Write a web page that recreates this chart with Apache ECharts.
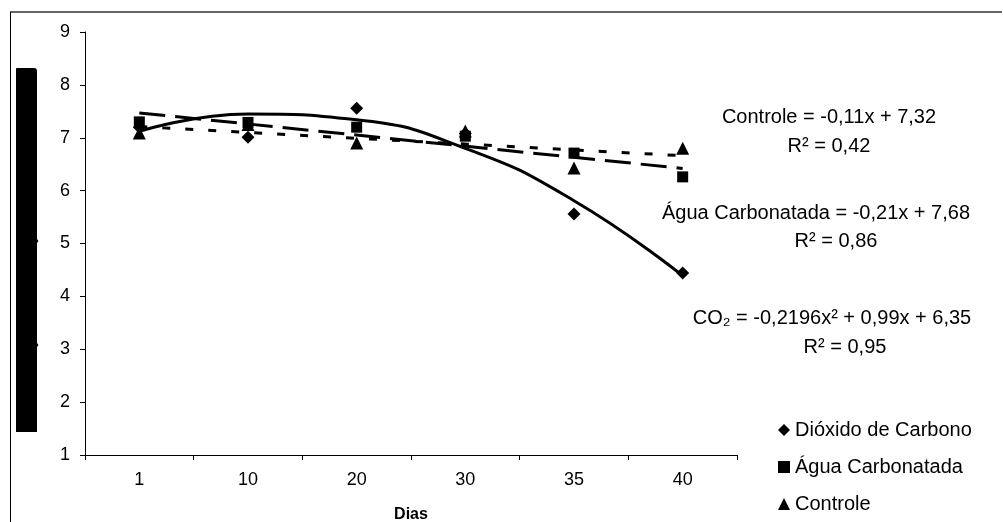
<!DOCTYPE html>
<html>
<head>
<meta charset="utf-8">
<script src="https://cdn.jsdelivr.net/npm/echarts@6/dist/echarts.min.js"></script>
<style>
  html, body { margin: 0; padding: 0; background: #fff; }
  #chart { width: 1003px; height: 522px; }
</style>
</head>
<body>
<div id="chart"></div>
<script>
// ---- data ----
const days = ['1', '10', '20', '30', '35', '40'];
const yTicks = [1, 9, 1]; // min, max, interval
const co2Values = [7.2, 7.01, 7.56, 7.08, 5.56, 4.44];
const aguaValues = [7.30, 7.29, 7.20, 7.03, 6.71, 6.26];
const controleValues = [7.09, 7.25, 6.90, 7.13, 6.43, 6.80];
// trend lines (as drawn on the chart)
const co2Trend = [7.12, 7.45, 7.34, 6.80, 5.81, 4.39];
const aguaTrend = [7.47, null, null, null, null, 6.42];
const controleTrend = [7.21, null, null, null, null, 6.66];
const seriesNames = ['Dióxido de Carbono', 'Água Carbonatada', 'Controle'];
const annotations = [
  ['Controle = -0,11x + 7,32', 829, 117],
  ['R² = 0,42', 829, 146],
  ['Água Carbonatada = -0,21x + 7,68', 816, 213],
  ['R² = 0,86', 836, 241],
  ['CO₂ = -0,2196x² + 0,99x + 6,35', 832, 318],
  ['R² = 0,95', 845, 347]
];

const FONT = '"Liberation Sans", Arial, sans-serif';
const chart = echarts.init(document.getElementById('chart'));

const graphics = [
  { type: 'line', shape: { x1: 10, y1: 12, x2: 1002, y2: 12 }, style: { stroke: '#333', lineWidth: 1.5 } },
  { type: 'line', shape: { x1: 10.5, y1: 12, x2: 10.5, y2: 522 }, style: { stroke: '#000', lineWidth: 1 } },
  { type: 'rect', shape: { x: 16, y: 68, width: 21, height: 364, r: [1, 3, 0, 0] }, style: { fill: '#000' } },
  { type: 'circle', shape: { cx: 36.5, cy: 241, r: 1.8 }, style: { fill: '#000' } },
  { type: 'circle', shape: { cx: 36.5, cy: 345, r: 1.8 }, style: { fill: '#000' } }
];
annotations.forEach(a => {
  graphics.push({
    type: 'text', x: a[1], y: a[2],
    style: { text: a[0], fill: '#000', font: '20px ' + FONT, textAlign: 'center', textVerticalAlign: 'middle' }
  });
});

const markerBase = { type: 'scatter', z: 5, itemStyle: { color: '#000', opacity: 1 } };

chart.setOption({
  animation: false,
  backgroundColor: '#fff',
  grid: { left: 85, right: 266, top: 32, bottom: 67, containLabel: false, outerBoundsMode: 'none' },
  xAxis: {
    type: 'category',
    data: days,
    boundaryGap: true,
    name: 'Dias',
    nameLocation: 'middle',
    nameGap: 52,
    nameTextStyle: { fontFamily: FONT, fontSize: 16, fontWeight: 'bold', color: '#000' },
    axisLine: { lineStyle: { color: '#000', width: 1 } },
    axisTick: { show: true, length: 5, alignWithLabel: false, lineStyle: { color: '#000' } },
    axisLabel: { fontFamily: FONT, fontSize: 18, color: '#000', margin: 16 },
    splitLine: { show: false }
  },
  yAxis: {
    type: 'value',
    min: yTicks[0], max: yTicks[1], interval: yTicks[2],
    axisLine: { show: true, lineStyle: { color: '#000', width: 1 } },
    axisTick: { show: true, length: 5, lineStyle: { color: '#000' } },
    axisLabel: { fontFamily: FONT, fontSize: 18, color: '#000', margin: 15 },
    splitLine: { show: false }
  },
  legend: {
    orient: 'vertical',
    left: 778, top: 419,
    padding: 0,
    height: 100,
    itemWidth: 12, itemHeight: 12,
    itemGap: 15,
    textStyle: { fontFamily: FONT, fontSize: 20, lineHeight: 22, color: '#000' },
    data: [
      { name: seriesNames[0], icon: 'diamond' },
      { name: seriesNames[1], icon: 'rect' },
      { name: seriesNames[2], icon: 'triangle' }
    ]
  },
  series: [
    { type: 'line', name: 'co2trend', data: co2Trend, smooth: 0.5, symbol: 'none', z: 3,
      lineStyle: { color: '#000', width: 3 } },
    { type: 'line', name: 'aguatrend', data: aguaTrend, connectNulls: true, symbol: 'none', z: 3,
      lineStyle: { color: '#000', width: 3, type: [26, 10] } },
    { type: 'line', name: 'controletrend', data: controleTrend, connectNulls: true, symbol: 'none', z: 3,
      lineStyle: { color: '#000', width: 3, type: [8, 15] } },
    Object.assign({}, markerBase, { name: seriesNames[0], data: co2Values, symbol: 'diamond', symbolSize: 13 }),
    Object.assign({}, markerBase, { name: seriesNames[1], data: aguaValues, symbol: 'rect', symbolSize: 11 }),
    Object.assign({}, markerBase, { name: seriesNames[2], data: controleValues, symbol: 'triangle', symbolSize: 13 })
  ],
  graphic: graphics
});
</script>
</body>
</html>
